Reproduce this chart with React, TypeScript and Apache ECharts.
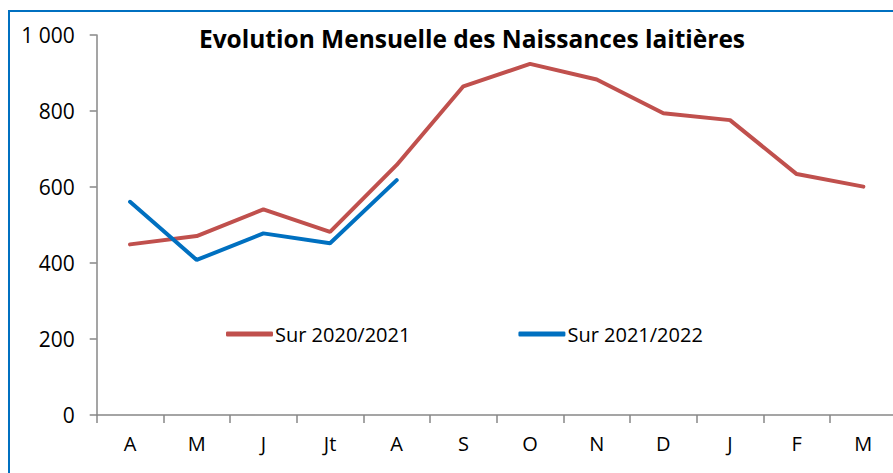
import React, { useEffect, useRef } from "react";
import * as echarts from "echarts";

const categories = ["A", "M", "J", "Jt", "A", "S", "O", "N", "D", "J", "F", "M"];
const series2020 = [449, 471, 541, 482, 658, 865, 924, 883, 794, 776, 634, 601];
const series2021 = [561, 408, 478, 452, 618];
const seriesNames = ["Sur 2020/2021", "Sur 2021/2022"];
const yTicks = { min: 0, max: 1000, interval: 200 };
const titleText = "Evolution Mensuelle des Naissances laitières";

const FONT = "'Open Sans', 'Noto Sans', sans-serif";

export default function App() {
  const ref = useRef<HTMLDivElement>(null);
  useEffect(() => {
    if (!ref.current) return;
    const chart = echarts.init(ref.current, undefined, { renderer: "svg" });
    const axisGray = "#878787";
    chart.setOption({
      animation: false,
      backgroundColor: "#ffffff",
      textStyle: { fontFamily: FONT },
      graphic: [
        {
          type: "rect",
          silent: true,
          z: -10,
          shape: { x: 9, y: 11, width: 1000, height: 1000 },
          style: { fill: "none", stroke: "#0070C0", lineWidth: 2 },
        },
        {
          type: "text",
          x: 472,
          y: 38,
          style: {
            text: titleText,
            fill: "#000000",
            font: `bold 24.5px ${FONT}`,
            textAlign: "center",
            textVerticalAlign: "middle",
          },
        },
      ],
      legend: {
        left: 221,
        top: 319,
        itemWidth: 47,
        itemHeight: 5,
        itemGap: 108,
        icon: "roundRect",
        textStyle: { fontSize: 20, color: "#000000", fontFamily: FONT, padding: [0, 0, 0, -3] },
        data: seriesNames,
      },
      grid: { left: 96.7, top: 35, right: 3.3, bottom: 65, containLabel: false },
      xAxis: {
        type: "category",
        data: categories,
        boundaryGap: true,
        axisLine: { show: true, lineStyle: { color: axisGray, width: 1.5 } },
        axisTick: { show: true, length: 8, lineStyle: { color: axisGray, width: 1.5 } },
        axisLabel: { color: "#000000", fontSize: 20, margin: 18, fontFamily: FONT },
        splitLine: { show: false },
      },
      yAxis: {
        type: "value",
        min: yTicks.min,
        max: yTicks.max,
        interval: yTicks.interval,
        axisLine: { show: true, lineStyle: { color: axisGray, width: 1.5 } },
        axisTick: { show: true, length: 7, lineStyle: { color: axisGray, width: 1.5 } },
        axisLabel: {
          color: "#000000",
          fontSize: 21,
          margin: 22,
          fontFamily: FONT,
          formatter: (v: number) => String(v).replace(/\B(?=(\d{3})+(?!\d))/g, " "),
        },
        splitLine: { show: false },
      },
      series: [
        {
          name: seriesNames[0],
          type: "line",
          data: series2020,
          showSymbol: false,
          symbol: "none",
          itemStyle: { color: "#C0504D" },
          lineStyle: { color: "#C0504D", width: 4, cap: "round" },
        },
        {
          name: seriesNames[1],
          type: "line",
          data: series2021,
          showSymbol: false,
          symbol: "none",
          itemStyle: { color: "#0070C0" },
          lineStyle: { color: "#0070C0", width: 4, cap: "round" },
        },
      ],
    });
    return () => chart.dispose();
  }, []);
  return (
    <div style={{ position: "fixed", left: 0, top: 0, width: 893, height: 473, overflow: "hidden", background: "#fff" }}>
      <div ref={ref} style={{ position: "absolute", left: 0, top: 0, width: 900, height: 480 }} />
    </div>
  );
}
